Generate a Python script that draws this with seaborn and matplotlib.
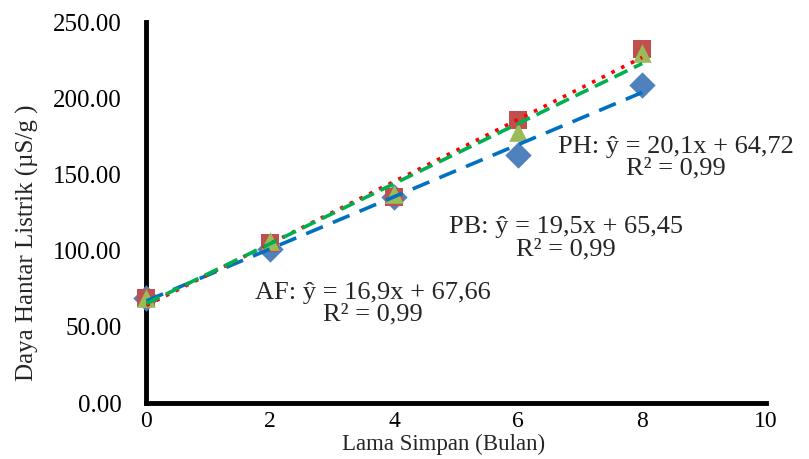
import numpy as np
import pandas as pd
import matplotlib
matplotlib.use('Agg')
import matplotlib.pyplot as plt
import seaborn as sns

sns.set_theme(style='white')
plt.rcParams['font.family'] = ['Liberation Serif', 'DejaVu Serif']

# data
bulan = [0, 2, 4, 6, 8]
af = [69, 101, 135, 163, 209]
ph = [69, 105, 135, 186, 232]
pb = [69, 106, 137, 178, 230]

y_ticks = [0, 50, 100, 150, 200, 250]
x_ticks = [0, 2, 4, 6, 8, 10]

persamaan = {
    'AF': 'AF: ŷ = 16,9x + 67,66\nR² = 0,99',
    'PB': 'PB: ŷ = 19,5x + 65,45\nR² = 0,99',
    'PH': 'PH: ŷ = 20,1x + 64,72\nR² = 0,99',
}

df = pd.DataFrame({'bulan': bulan, 'AF': af, 'PH': ph, 'PB': pb})

fig = plt.figure(figsize=(8.09, 4.59), dpi=100)
ax = fig.add_axes([0.181, 0.122, 0.766, 0.83])

# seri: (kolom, marker, warna titik, warna garis, gaya garis)
seri = [
    ('AF', 'D', '#4F81BD', '#0070C0', (0, (5, 3))),
    ('PH', 's', '#C0504D', '#FF0000', (0, (1, 2))),
    ('PB', '^', '#9BBB59', '#00B050', (0, (4, 2))),
]
for kol, mk, c_pt, c_ln, ls in seri:
    sns.regplot(data=df, x='bulan', y=kol, ax=ax, ci=None, truncate=True,
                marker=mk,
                scatter_kws=dict(s=180, color=c_pt, alpha=1, linewidths=0,
                                 zorder=3, clip_on=False),
                line_kws=dict(color=c_ln, linestyle=ls, linewidth=2.6, zorder=5))

ax.set_xlim(0, 10)
ax.set_ylim(0, 250)
ax.set_xticks(x_ticks)
ax.set_yticks(y_ticks)
ax.set_yticklabels([f'{v:.2f}' for v in y_ticks])
ax.tick_params(axis='both', direction='out', length=6, width=3, colors='black')
ax.tick_params(axis='y', pad=12, labelsize=18)
ax.tick_params(axis='x', pad=0, labelsize=17)

for s in ['top', 'right']:
    ax.spines[s].set_visible(False)
for s in ['left', 'bottom']:
    ax.spines[s].set_linewidth(3.5)
    ax.spines[s].set_color('black')

ax.set_xlabel('Lama Simpan (Bulan)', fontsize=16.5)
ax.set_ylabel('Daya Hantar Listrik (µS/g )', fontsize=18)
ax.xaxis.set_label_coords(0.48, -0.081)
ax.yaxis.set_label_coords(-0.174, 0.42)

ax.text(8.55, 161, persamaan['PH'], ha='center', va='center', fontsize=19,
        linespacing=1.0, zorder=6)
ax.text(6.77, 108, persamaan['PB'], ha='center', va='center', fontsize=19,
        linespacing=1.0, zorder=6)
ax.text(3.66, 65, persamaan['AF'], ha='center', va='center', fontsize=19,
        linespacing=1.0, zorder=6)

fig.savefig('out.png', dpi=100)
